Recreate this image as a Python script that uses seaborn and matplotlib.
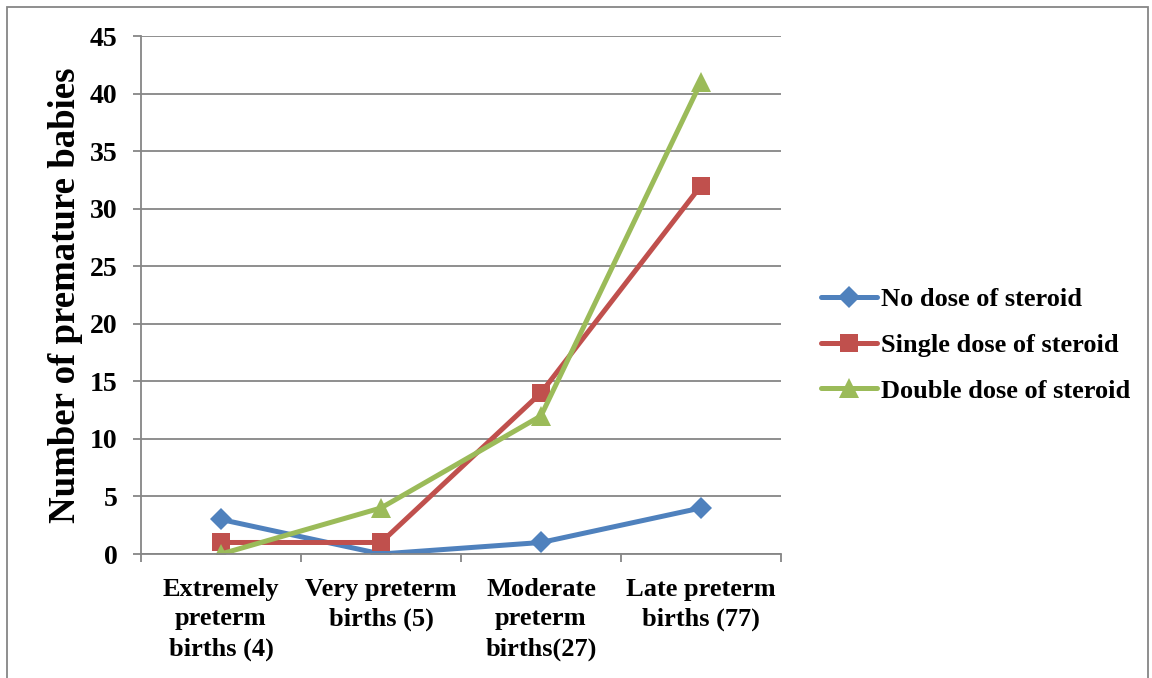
import matplotlib
matplotlib.use("Agg")
import matplotlib.pyplot as plt
from matplotlib.patches import Rectangle
from matplotlib.lines import Line2D
import seaborn as sns
import pandas as pd

categories = ["Extremely\npreterm\nbirths (4)", "Very preterm\nbirths (5)",
              "Moderate\npreterm\nbirths(27)", "Late preterm\nbirths (77)"]
series_names = ["No dose of steroid", "Single dose of steroid", "Double dose of steroid"]
no_dose = [3, 0, 1, 4]
single_dose = [1, 1, 14, 32]
double_dose = [0, 4, 12, 41]
y_ticks = [0, 5, 10, 15, 20, 25, 30, 35, 40, 45]

colors = {"No dose of steroid": "#4F81BD",
          "Single dose of steroid": "#C0504D",
          "Double dose of steroid": "#9BBB59"}
markers = {"No dose of steroid": "D",
           "Single dose of steroid": "s",
           "Double dose of steroid": "^"}
marker_sizes = {"No dose of steroid": 11,
                "Single dose of steroid": 13,
                "Double dose of steroid": 15}

rows = []
for name, vals in zip(series_names, [no_dose, single_dose, double_dose]):
    for i, v in enumerate(vals):
        rows.append({"pos": i, "value": v, "series": name})
df = pd.DataFrame(rows)

sns.set_theme(style="white")
plt.rcParams["font.family"] = ["Liberation Serif", "DejaVu Serif"]
plt.rcParams["font.weight"] = "bold"
plt.rcParams["text.color"] = "black"
plt.rcParams["xtick.color"] = "black"
plt.rcParams["ytick.color"] = "black"
plt.rcParams["axes.labelcolor"] = "black"

fig = plt.figure(figsize=(11.52, 6.78), dpi=100)
ax = fig.add_axes([141 / 1152, 1 - 554 / 678, 640 / 1152, (554 - 36) / 678])

sns.lineplot(data=df, x="pos", y="value", hue="series", style="series",
             hue_order=series_names, style_order=series_names,
             palette=colors, markers=markers, dashes=False,
             linewidth=3.6, markeredgewidth=0,
             ax=ax, legend=False)
for line, name in zip(ax.lines, series_names):
    line.set_markersize(marker_sizes[name])

ax.set_xlim(-0.5, 3.5)
ax.set_ylim(0, 45)
ax.set_yticks(y_ticks)
ax.set_yticklabels([str(t) for t in y_ticks], fontsize=20, fontweight="bold")
ax.set_xticks([0, 1, 2, 3])
ax.set_xticklabels(categories, fontsize=19, fontweight="bold", linespacing=1.38)
ax.set_xlabel("")
ax.set_ylabel("Number of premature babies", fontsize=26.5, fontweight="bold", labelpad=5)

ax.grid(axis="y", color="#868686", linewidth=1.3)
ax.set_axisbelow(True)
for side in ["top", "right"]:
    ax.spines[side].set_visible(False)
for side in ["left", "bottom"]:
    ax.spines[side].set_color("#868686")
    ax.spines[side].set_linewidth(1.3)

# y ticks outward; x ticks at category boundaries
ax.tick_params(axis="y", which="major", direction="out", length=6, width=1.3,
               color="#868686", pad=11, left=True, labelcolor="black")
ax.tick_params(axis="x", which="major", length=0, pad=17, labelcolor="black")
ax.set_xticks([-0.5, 0.5, 1.5, 2.5, 3.5], minor=True)
ax.tick_params(axis="x", which="minor", direction="out", length=6, width=1.3,
               color="#868686", bottom=True)

handles = [Line2D([], [], color=colors[n], marker=markers[n], linewidth=3.6,
                  markersize=marker_sizes[n], markeredgewidth=0) for n in series_names]
leg = fig.legend(handles, series_names, loc="center left",
                 bbox_to_anchor=(797 / 1152, 1 - 345 / 678), frameon=False,
                 prop={"family": "Liberation Serif", "weight": "bold", "size": 19},
                 handlelength=2.12, handletextpad=0.15, labelspacing=0.85)

fig.patches.append(Rectangle((7 / 1152, -0.01), (1148 - 7) / 1152, 1 - 7 / 678 + 0.01,
                             transform=fig.transFigure, fill=False,
                             edgecolor="#868686", linewidth=1.3))

fig.savefig("out.png", dpi=100)
